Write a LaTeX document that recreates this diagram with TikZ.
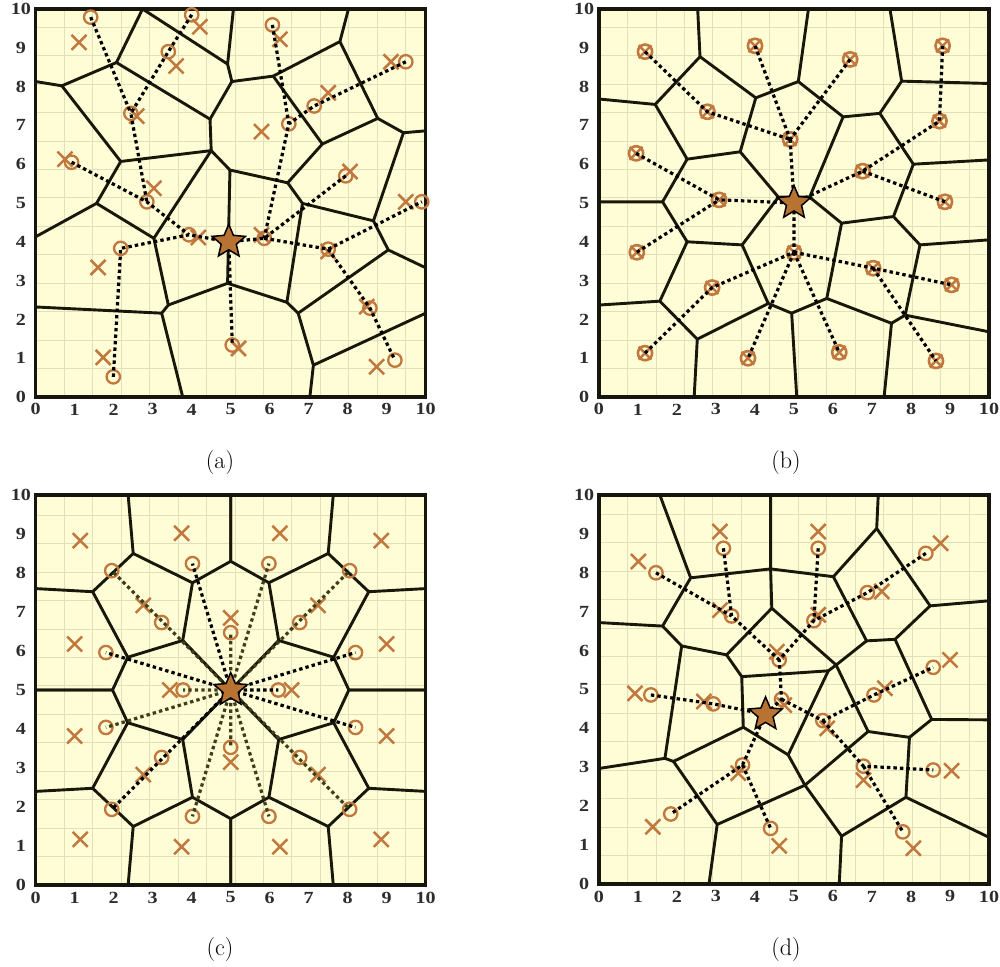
\documentclass[tikz,border=0pt]{standalone}
\usepackage{fontspec}
\newfontfamily\tickfont{Liberation Serif}
\usetikzlibrary{shapes.geometric}
\definecolor{bgcol}{RGB}{255,253,214}
\definecolor{gridcol}{RGB}{224,224,188}
\definecolor{edgecol}{RGB}{24,24,10}
\definecolor{framecol}{RGB}{22,22,14}
\definecolor{markcol}{RGB}{192,120,62}
\definecolor{starcol}{RGB}{184,114,50}
\definecolor{olivecol}{RGB}{62,62,24}
\definecolor{tickcol}{RGB}{45,45,45}
\tikzset{
  vedge/.style={line width=2.9pt, draw=edgecol, line cap=round, line join=round},
  panelframe/.style={line width=3.4pt, draw=framecol},
  conn/.style={line width=3.2pt, dash pattern=on 3.4pt off 3.1pt, draw=black},
  connol/.style={conn, draw=olivecol},
  ticklab/.style={font=\tickfont\bfseries\fontsize{17}{17}\selectfont, text=tickcol, inner sep=0pt, xscale=1.18},
  caplab/.style={font=\fontsize{24}{28}\selectfont, inner sep=0pt},
  starnode/.style={star, star points=5, star point ratio=2.2, minimum size=35pt, inner sep=0pt, fill=starcol, draw=black, line width=1.5pt},
  circmk/.pic={\draw[markcol, line width=2.3pt] (0,0) circle[radius=6.7pt];},
  crossmk/.pic={\draw[markcol, line width=2.5pt] (-7.5pt,-7.5pt)--(7.5pt,7.5pt) (-7.5pt,7.5pt)--(7.5pt,-7.5pt);},
  otmk/.pic={\draw[markcol, line width=2.6pt] (0,0) circle[radius=7.1pt];
             \draw[markcol, line width=2.4pt] (-6.4pt,-6.4pt)--(6.4pt,6.4pt) (-6.4pt,6.4pt)--(6.4pt,-6.4pt);}
}
\newcommand{\mypanelbg}{%
  \fill[bgcol] (0,0) rectangle (10,10);
  \draw[gridcol, line width=0.7pt] (0,0) grid (10,10);
}
\newcommand{\mypanelframe}{%
  \draw[panelframe] (0,0) rectangle (10,10);
  \foreach \v in {0,...,10} {
    \node[ticklab] at (-0.38,\v) {\v};
    \node[ticklab] at (\v,-0.32) {\v};
  }
}
\newcommand{\cquad}{%
  \draw[vedge] (2.37,10)--(2.5,8.5)--(1.46,7.52)--(0,7.6);
  \draw[vedge] (2.5,8.5)--(4.02,7.75)--(5,8.3)--(5,10);
  \draw[vedge] (4.02,7.75)--(3.77,6.27)--(5,5);
  \draw[vedge] (1.46,7.52)--(2.36,5.84)--(3.77,6.27);
  \draw[vedge] (2.36,5.84)--(1.97,5.0)--(0,5);
}
\begin{document}
\begin{tikzpicture}[x=1pt,y=1pt]
\useasboundingbox (0,0) rectangle (1000,966);
\fill[white] (0,0) rectangle (1000,966);

% ================= panel (a)
\begin{scope}[shift={(35.7,569)}, x=39pt, y=38.8pt]
  \mypanelbg
  \draw[vedge] (2.74,10)--(2.07,8.62)--(0.67,8.02)--(0,8.13);
  \draw[vedge] (0.67,8.02)--(2.18,6.07)--(1.56,4.99)--(0,4.13);
  \draw[vedge] (2.07,8.62)--(4.47,7.16)--(4.5,6.35)--(2.18,6.07);
  \draw[vedge] (2.74,10)--(4.92,8.58)--(5.07,10);
  \draw[vedge] (4.92,8.58)--(5.03,8.13)--(4.47,7.16);
  \draw[vedge] (5.03,8.13)--(6.09,8.27)--(7.8,9.16)--(8.02,10);
  \draw[vedge] (6.09,8.27)--(7.35,6.52)--(8.77,7.18)--(7.8,9.16);
  \draw[vedge] (8.77,7.18)--(9.43,6.81)--(10,6.86);
  \draw[vedge] (7.35,6.52)--(6.46,5.52)--(4.98,5.85)--(4.5,6.35);
  \draw[vedge] (4.5,6.35)--(3.03,4.09)--(1.56,4.99);
  \draw[vedge] (3.03,4.09)--(3.4,2.37)--(3.23,2.16)--(0,2.32);
  \draw[vedge] (3.23,2.16)--(3.77,0);
  \draw[vedge] (3.4,2.37)--(4.92,2.93)--(4.98,5.85);
  \draw[vedge] (4.92,2.93)--(6.44,2.44)--(6.84,4.99)--(6.46,5.52);
  \draw[vedge] (6.84,4.99)--(8.66,4.54)--(9.43,6.81);
  \draw[vedge] (8.66,4.54)--(9.04,3.79)--(10,3.33);
  \draw[vedge] (9.04,3.79)--(6.73,2.16)--(6.44,2.44);
  \draw[vedge] (6.73,2.16)--(7.12,0.82)--(7.03,0);
  \draw[vedge] (7.12,0.82)--(10,2.16);
  \mypanelframe
  \foreach \xx/\yy in {1.11/9.14, 4.21/9.54, 3.6/8.53, 2.59/7.24, 0.75/6.13, 3.03/5.38, 1.6/3.34, 4.17/4.11, 1.73/1.02, 6.26/9.22, 9.11/8.64, 7.5/7.84, 5.79/6.84, 8.06/5.81, 9.49/5.03, 5.79/4.18, 7.5/3.75, 8.49/2.33, 8.74/0.78, 5.2/1.25}
    \pic at (\xx,\yy) {crossmk};
  \foreach \n/\xx/\yy in {a1/1.41/9.79, a2/4.0/9.85, a3/3.4/8.9, a4/2.44/7.31, a5/0.92/6.05, a6/2.85/5.03, a7/2.18/3.83, a8/3.93/4.18, a9/1.99/0.52, a10/6.07/9.59, a11/9.49/8.64, a12/7.14/7.5, a13/6.49/7.04, a14/7.95/5.70, a15/9.9/5.03, a16/5.86/4.09, a17/7.5/3.81, a18/8.57/2.29, a19/9.21/0.95, a20/5.04/1.34}
    {\coordinate (\n) at (\xx,\yy); \pic at (\n) {circmk};}
  \coordinate (astar) at (4.95,4.0);
  \draw[conn] (a1)--(a4) (a2)--(a3)--(a4)--(a6) (a5)--(a6)--(a8) (a9)--(a7)--(a8)--(astar);
  \draw[conn] (a10)--(a13) (a11)--(a12)--(a13)--(a16) (a14)--(a16)--(astar);
  \draw[conn] (a16)--(a17)--(a15) (a17)--(a18)--(a19) (astar)--(a20);
  \node[starnode] (astarn) at (astar) {};
\end{scope}
\node[caplab] (capa) at (220,503) {(a)};

% ================= panel (b)
\begin{scope}[shift={(599,569)}, x=39pt, y=38.8pt]
  \mypanelbg
  \draw[vedge] (2.53,10)--(2.59,8.77)--(1.44,7.54)--(0,7.68);
  \draw[vedge] (1.44,7.54)--(2.26,6.13)--(3.62,6.32)--(4.02,7.71)--(2.59,8.77);
  \draw[vedge] (4.02,7.71)--(5.11,8.13)--(5.37,10);
  \draw[vedge] (5.11,8.13)--(6.26,7.22)--(7.2,7.31)--(7.76,8.14)--(7.46,10);
  \draw[vedge] (7.76,8.14)--(10,8.08);
  \draw[vedge] (7.2,7.31)--(8.06,6.0)--(10,6.11);
  \draw[vedge] (8.06,6.0)--(7.55,4.65)--(6.22,4.48)--(5.4,5.15)--(6.26,7.22);
  \draw[vedge] (5.4,5.15)--(4.6,5.15)--(3.62,6.32);
  \draw[vedge] (4.6,5.15)--(3.67,3.92)--(2.26,4.0)--(1.63,5.03)--(0,5.03);
  \draw[vedge] (1.63,5.03)--(2.26,6.13);
  \draw[vedge] (2.26,4.0)--(1.56,2.47)--(0,2.37);
  \draw[vedge] (1.56,2.47)--(2.52,1.49)--(2.44,0);
  \draw[vedge] (2.52,1.49)--(4.34,2.41)--(3.67,3.92);
  \draw[vedge] (4.34,2.41)--(4.94,2.16)--(5.07,0);
  \draw[vedge] (4.94,2.16)--(5.84,2.54)--(6.22,4.48);
  \draw[vedge] (5.84,2.54)--(7.5,1.9)--(7.31,0);
  \draw[vedge] (7.5,1.9)--(7.85,2.11)--(10,1.68);
  \draw[vedge] (7.85,2.11)--(8.23,3.92)--(10,4.05);
  \draw[vedge] (8.23,3.92)--(7.55,4.65);
  \mypanelframe
  \foreach \n/\xx/\yy in {b1/1.18/8.9, b2/2.78/7.35, b3/0.95/6.28, b4/3.08/5.08, b5/4.0/9.05, b6/6.44/8.7, b7/8.81/9.05, b8/4.9/6.64, b9/8.73/7.11, b10/6.76/5.82, b11/8.87/5.03, b12/0.97/3.73, b13/2.9/2.82, b14/1.18/1.13, b15/3.82/1.0, b16/5.0/3.73, b17/7.03/3.32, b18/9.04/2.89, b19/6.16/1.15, b20/8.64/0.93}
    {\coordinate (\n) at (\xx,\yy); \pic at (\n) {otmk};}
  \coordinate (bstar) at (5.0,5.0);
  \draw[conn] (b1)--(b2)--(b8) (b5)--(b8) (b6)--(b8) (b8)--(bstar);
  \draw[conn] (b3)--(b4)--(bstar) (b12)--(b4);
  \draw[conn] (b7)--(b9)--(b10)--(bstar) (b10)--(b11);
  \draw[conn] (b14)--(b13)--(b16)--(bstar) (b16)--(b17)--(b18) (b17)--(b20) (b16)--(b19) (b16)--(b15);
  \node[starnode] (bstarn) at (bstar) {};
\end{scope}
\node[caplab] (capb) at (786,503) {(b)};

% ================= panel (c)
\begin{scope}[shift={(35.7,81)}, x=39pt, y=39pt]
  \mypanelbg
  \cquad
  \begin{scope}[shift={(10,0)}, xscale=-1]\cquad\end{scope}
  \begin{scope}[shift={(0,10)}, yscale=-1]\cquad\end{scope}
  \begin{scope}[shift={(10,10)}, xscale=-1, yscale=-1]\cquad\end{scope}
  \mypanelframe
  \foreach \xx/\yy in {1.14/8.83, 3.74/9.02, 2.76/7.17, 1.0/6.18, 8.86/8.83, 6.26/9.02, 7.24/7.17, 9.0/6.18, 1.14/1.17, 3.74/0.98, 2.76/2.83, 1.0/3.82, 8.86/1.17, 6.26/0.98, 7.24/2.83, 9.0/3.82, 5/6.85, 3.44/5, 5/3.15, 6.56/5}
    \pic at (\xx,\yy) {crossmk};
  \foreach \n/\xx/\yy in {c1/1.95/8.06, c2/3.23/6.73, c3/4.02/8.24, c4/1.8/5.96, c5/8.05/8.06, c6/6.77/6.73, c7/5.98/8.24, c8/8.2/5.96, c9/1.95/1.94, c10/3.23/3.27, c11/4.02/1.76, c12/1.8/4.04, c13/8.05/1.94, c14/6.77/3.27, c15/5.98/1.76, c16/8.2/4.04, c17/5/6.47, c18/3.78/5, c19/5/3.53, c20/6.22/5}
    {\coordinate (\n) at (\xx,\yy); \pic at (\n) {circmk};}
  \coordinate (cstar) at (5,5);
  \draw[connol] (cstar)--(c1) (cstar)--(c5) (cstar)--(c7) (cstar)--(c11) (cstar)--(c12) (cstar)--(c13) (cstar)--(c15) (cstar)--(c17) (cstar)--(c18) (cstar)--(c19);
  \draw[conn] (cstar)--(c3) (cstar)--(c4) (cstar)--(c8) (cstar)--(c9) (cstar)--(c16) (cstar)--(c20);
  \node[starnode] (cstarn) at (cstar) {};
\end{scope}
\node[caplab] (capc) at (220,16) {(c)};

% ================= panel (d)
\begin{scope}[shift={(599,82)}, x=39pt, y=38.9pt]
  \mypanelbg
  \draw[vedge] (1.56,10)--(2.35,7.87)--(4.4,8.1)--(4.4,10);
  \draw[vedge] (4.4,8.1)--(6.01,7.9)--(7.12,9.14)--(7.16,10);
  \draw[vedge] (7.12,9.14)--(8.49,7.15)--(10,7.28);
  \draw[vedge] (6.01,7.9)--(6.86,6.25)--(7.59,6.29)--(8.49,7.15);
  \draw[vedge] (7.59,6.29)--(8.53,4.23)--(10,4.22);
  \draw[vedge] (8.53,4.23)--(7.96,3.77)--(7.87,2.23)--(10,1.2);
  \draw[vedge] (7.87,2.23)--(6.22,1.23)--(6.16,0);
  \draw[vedge] (6.22,1.23)--(5.28,2.54)--(6.9,3.92)--(7.96,3.77);
  \draw[vedge] (6.9,3.92)--(6.08,5.63)--(6.86,6.25);
  \draw[vedge] (6.08,5.63)--(5.88,5.48)--(4.85,3.32)--(5.28,2.54);
  \draw[vedge] (5.88,5.48)--(3.66,5.33)--(3.27,5.89)--(4.43,7.09)--(4.4,8.1);
  \draw[vedge] (4.43,7.09)--(6.08,5.63);
  \draw[vedge] (3.27,5.89)--(2.12,6.12)--(1.63,6.63)--(0,6.72);
  \draw[vedge] (1.63,6.63)--(2.35,7.87);
  \draw[vedge] (2.12,6.12)--(1.69,3.23)--(0,2.97);
  \draw[vedge] (1.69,3.23)--(1.91,3.15)--(3.7,4.03)--(3.66,5.33);
  \draw[vedge] (1.91,3.15)--(3.03,1.53)--(2.82,0);
  \draw[vedge] (3.03,1.53)--(5.28,2.54);
  \draw[vedge] (3.7,4.03)--(4.85,3.32);
  \mypanelframe
  \foreach \xx/\yy in {1.01/8.29, 3.1/9.06, 3.1/7.04, 0.92/4.9, 2.69/4.69, 3.57/2.85, 1.38/1.47, 5.62/9.06, 8.76/8.76, 7.25/7.52, 5.62/6.92, 4.56/5.97, 9.0/5.76, 7.33/5.03, 4.75/4.6, 5.85/4.0, 6.78/2.67, 9.04/2.91, 4.62/0.98, 8.06/0.92}
    \pic at (\xx,\yy) {crossmk};
  \foreach \n/\xx/\yy in {d1/1.46/8.0, d2/3.19/8.63, d3/3.4/6.89, d4/1.33/4.86, d5/2.93/4.63, d6/3.68/3.06, d7/1.84/1.8, d8/5.62/8.63, d9/8.38/8.5, d10/6.88/7.49, d11/5.51/6.77, d12/4.62/5.76, d13/8.57/5.57, d14/7.05/4.86, d15/4.68/4.75, d16/5.74/4.2, d17/6.78/3.03, d18/8.57/2.93, d19/4.4/1.43, d20/7.79/1.34}
    {\coordinate (\n) at (\xx,\yy); \pic at (\n) {circmk};}
  \coordinate (dstar) at (4.27,4.36);
  \draw[conn] (d1)--(d3) (d2)--(d3)--(d12) (d8)--(d11) (d9)--(d10)--(d11)--(d12)--(d15)--(dstar);
  \draw[conn] (d4)--(d5)--(dstar) (d15)--(d16)--(d14)--(d13) (d16)--(d17)--(d18) (d17)--(d20);
  \draw[conn] (dstar)--(d6)--(d7) (d6)--(d19);
  \node[starnode] (dstarn) at (dstar) {};
\end{scope}
\node[caplab] (capd) at (786,16) {(d)};
\end{tikzpicture}
\end{document}
